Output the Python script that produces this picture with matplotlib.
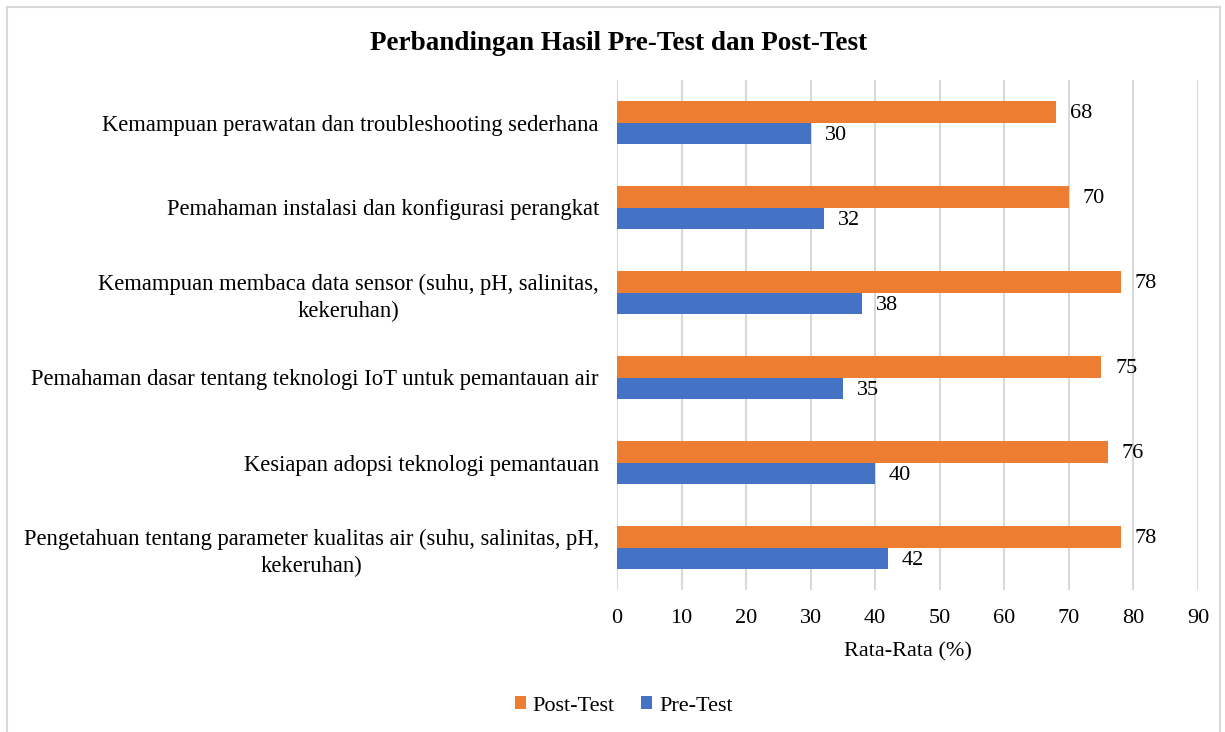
import matplotlib.pyplot as plt
from matplotlib.patches import Rectangle

# Data (bottom to top, as drawn on the y axis)
categories = [
    "Pengetahuan tentang parameter kualitas air (suhu, salinitas, pH,\nkekeruhan)",
    "Kesiapan adopsi teknologi pemantauan",
    "Pemahaman dasar tentang teknologi IoT untuk pemantauan air",
    "Kemampuan membaca data sensor (suhu, pH, salinitas,\nkekeruhan)",
    "Pemahaman instalasi dan konfigurasi perangkat",
    "Kemampuan perawatan dan troubleshooting sederhana",
]
pre_test = [42, 40, 35, 38, 32, 30]
post_test = [78, 76, 75, 78, 70, 68]

plt.rcParams['font.family'] = ['Liberation Serif', 'DejaVu Serif']

fig = plt.figure(figsize=(12.25, 7.32), dpi=100)
ax = fig.add_axes([617 / 1225, 1 - 590 / 732, 581 / 1225, 510 / 732])

# Outer chart border
fig.patches.append(Rectangle((7 / 1225, -0.01), 1213 / 1225, 1 - 7 / 732 + 0.01,
                             transform=fig.transFigure, fill=False,
                             edgecolor="#d9d9d9", linewidth=1.5))

h = 0.25
y = list(range(len(categories)))
post_bars = ax.barh([i + h / 2 for i in y], post_test, height=h, color="#ED7D31", label="Post-Test")
pre_bars = ax.barh([i - h / 2 for i in y], pre_test, height=h, color="#4472C4", label="Pre-Test")

for bars, vals in [(post_bars, post_test), (pre_bars, pre_test)]:
    for b, v in zip(bars, vals):
        ax.annotate(str(v), (v, b.get_y() + b.get_height() / 2), xytext=(10, -1.5),
                    textcoords="offset points", va="center", ha="left", fontsize=16)

ax.set_xlim(0, 90)
ax.set_ylim(-0.5, len(categories) - 0.5)
ax.set_xticks(range(0, 91, 10))
ax.set_yticks(y)
ax.set_yticklabels(categories, fontsize=16.3, multialignment="center", linespacing=1.35)
ax.tick_params(axis="x", labelsize=16, length=0, pad=14)
ax.tick_params(axis="y", length=0, pad=13)
ax.xaxis.grid(True, color="#d9d9d9", linewidth=1.5)
ax.set_axisbelow(True)
for s in ax.spines.values():
    s.set_visible(False)

ax.set_xlabel("Rata-Rata (%)", fontsize=16, labelpad=10)
fig.text(0.505, 1 - 44 / 732, "Perbandingan Hasil Pre-Test dan Post-Test",
         ha="center", va="center", fontsize=19.5, fontweight="bold")

fig.legend(handles=[post_bars, pre_bars], loc="center", bbox_to_anchor=(0.509, 1 - 706 / 732),
           ncol=2, frameon=False, fontsize=16, handlelength=0.5, handleheight=0.5,
           handletextpad=0.3, columnspacing=1.2)

plt.savefig("out.png", dpi=100)
